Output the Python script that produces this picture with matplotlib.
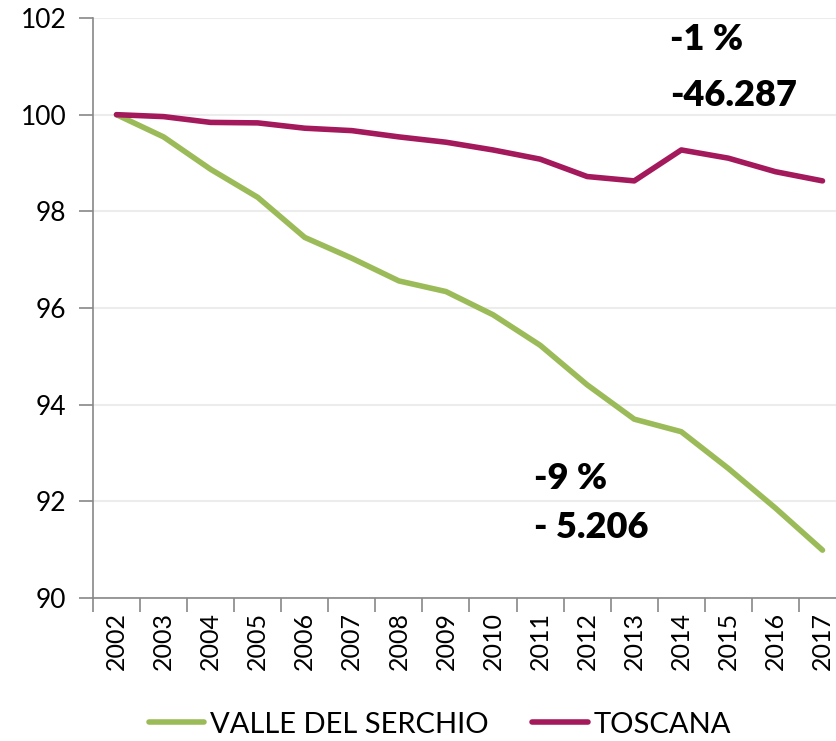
import matplotlib
matplotlib.use("Agg")
import matplotlib.pyplot as plt
import numpy as np
from matplotlib.ticker import FixedLocator, NullFormatter

plt.rcParams['font.family'] = ['Lato', 'DejaVu Sans']

years = [str(y) for y in range(2002, 2018)]
valle = [100.0, 99.54, 98.87, 98.29, 97.46, 97.03, 96.56, 96.34,
         95.86, 95.23, 94.41, 93.70, 93.44, 92.68, 91.86, 90.99]
toscana = [100.0, 99.96, 99.84, 99.83, 99.72, 99.67, 99.54, 99.43,
           99.27, 99.08, 98.72, 98.63, 99.27, 99.10, 98.82, 98.63]
y_ticks = [90, 92, 94, 96, 98, 100, 102]

green = '#9BBB59'
purple = '#A3195B'

fig = plt.figure(figsize=(8.36, 7.41), dpi=100)
ax = fig.add_axes([0.1112, 0.193, 0.9008, 0.7827])

x = np.arange(len(years))
ax.plot(x, valle, color=green, lw=4, solid_capstyle='round', label='VALLE DEL SERCHIO')
ax.plot(x, toscana, color=purple, lw=4, solid_capstyle='round', label='TOSCANA')

ax.set_xlim(-0.5, len(years) - 0.5)
ax.set_ylim(90, 102)
ax.set_yticks(y_ticks)
ax.yaxis.grid(True, color='#ececec', lw=1.5)
ax.set_axisbelow(True)

# category boundaries get the tick marks, labels sit in the middle
ax.xaxis.set_major_locator(FixedLocator(np.arange(-0.5, len(years), 1.0)))
ax.xaxis.set_major_formatter(NullFormatter())
ax.xaxis.set_minor_locator(FixedLocator(x))
ax.set_xticklabels(years, minor=True, rotation=90, fontsize=18)
ax.tick_params(axis='x', which='major', length=10, width=1.2, color='#888888')
ax.tick_params(axis='x', which='minor', length=0, pad=10)
ax.tick_params(axis='y', length=10, width=1.2, color='#888888', labelsize=19, pad=9)

for s in ['top', 'right']:
    ax.spines[s].set_visible(False)
for s in ['left', 'bottom']:
    ax.spines[s].set_color('#888888')
    ax.spines[s].set_linewidth(1.2)

# annotations
ax.text(11.77, 101.55, '-1 %', fontsize=26, fontweight='heavy', va='center')
ax.text(11.77, 100.4, '-46.287', fontsize=26, fontweight='heavy', va='center')
ax.text(8.86, 92.48, '-9 %', fontsize=26, fontweight='heavy', va='center')
ax.text(8.86, 91.45, '- 5.206', fontsize=26, fontweight='heavy', va='center')

fig.legend(loc='center', bbox_to_anchor=(0.526, 0.022), ncol=2, frameon=False,
           fontsize=21, handlelength=1.9, columnspacing=1.5, handletextpad=0.2)

fig.savefig('out.png', dpi=100)
